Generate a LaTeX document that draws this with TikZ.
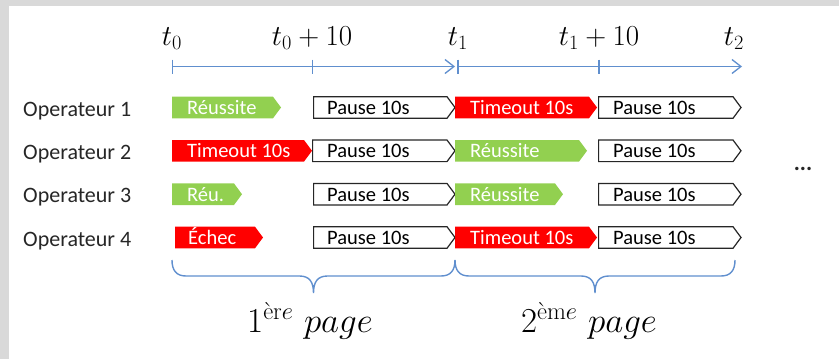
\RequirePackage{fix-cm}
\documentclass[tikz,border=0pt]{standalone}
\usepackage{amsmath}
\usepackage[no-math]{fontspec}
\newfontfamily\calib{Carlito}
\usetikzlibrary{arrows.meta}
\definecolor{axblue}{RGB}{96,143,206}
\definecolor{okgreen}{HTML}{92D050}
\definecolor{kored}{HTML}{FF0000}
\definecolor{framegray}{HTML}{D9D9D9}
\tikzset{
  boxtxt/.style={anchor=base west, inner sep=0pt, font=\calib\fontsize{20.5}{24}\selectfont},
  oklbl/.style={boxtxt, text=white},
  oplbl/.style={anchor=base west, inner sep=0pt, font=\calib\fontsize{22}{26}\selectfont, text=black!85},
  tlbl/.style={anchor=base, inner sep=0pt, font=\fontsize{29}{34}\selectfont},
  pagelbl/.style={anchor=base, inner sep=0pt, font=\fontsize{35}{42}\selectfont},
  axisline/.style={draw=axblue, line width=1.3pt},
  tipped/.style={axisline, -{Straight Barb[length=9pt,width=14pt,line width=1.3pt]}},
  okfill/.style={fill=okgreen},
  kofill/.style={fill=kored},
  pausebox/.style={draw=black!85, line width=1.2pt, fill=white, line join=miter},
  bracepath/.style={axisline, line width=1.4pt},
}
\newcommand\stepshape[4]{% style, x1, x2, y
  \path[#1] ({#2},{#4-10.8}) -- ({#3-8},{#4-10.8}) -- ({#3},{#4}) -- ({#3-8},{#4+10.8}) -- ({#2},{#4+10.8}) -- cycle;}
% brace from coordinate #1 to #2 (same y), pointing down
\newcommand\pagebrace[2]{%
  \draw[bracepath] (#1) .. controls ([yshift=-10pt]#1) and ([xshift=4pt,yshift=-16pt]#1) .. ([xshift=14pt,yshift=-16pt]#1)
    -- ([xshift=-14pt,yshift=-16pt]$(#1)!0.5!(#2)$)
    .. controls ([xshift=-4pt,yshift=-16pt]$(#1)!0.5!(#2)$) and ([yshift=-22pt]$(#1)!0.5!(#2)$) .. ([yshift=-33pt]$(#1)!0.5!(#2)$)
    .. controls ([yshift=-22pt]$(#1)!0.5!(#2)$) and ([xshift=4pt,yshift=-16pt]$(#1)!0.5!(#2)$) .. ([xshift=14pt,yshift=-16pt]$(#1)!0.5!(#2)$)
    -- ([xshift=-14pt,yshift=-16pt]#2)
    .. controls ([xshift=-4pt,yshift=-16pt]#2) and ([yshift=-10pt]#2) .. (#2);}
\usetikzlibrary{calc}
\begin{document}
\begin{tikzpicture}[x=1pt,y=-1pt]
\useasboundingbox (0,0) rectangle (839,359);
\fill[framegray] (0,0) rectangle (839,6);
\fill[framegray] (0,0) rectangle (9,359);

% time axis
\coordinate (a0) at (172.7,66.5);
\coordinate (a1) at (312.7,66.5);
\coordinate (a2) at (455,66.5);
\coordinate (b0) at (458,66.5);
\coordinate (b1) at (599,66.5);
\coordinate (b2) at (742,66.5);
\draw[tipped] (a0) -- (a2);
\draw[tipped] (b0) -- (b2);
\foreach \c in {a0,a1,b0,b1}{
  \draw[axisline] ([yshift=7pt]\c) -- ([yshift=-7pt]\c);
}
\node[tlbl] (t0) at (172,45) {$t_0$};
\node[tlbl] (t0p) at (312,45) {$t_0+10$};
\node[tlbl] (t1) at (458,45) {$t_1$};
\node[tlbl] (t1p) at (599,45) {$t_1+10$};
\node[tlbl] (t2) at (734,45) {$t_2$};

% operators
\node[oplbl] (op1) at (23,116) {Operateur 1};
\node[oplbl] (op2) at (23,159.3) {Operateur 2};
\node[oplbl] (op3) at (23,202.7) {Operateur 3};
\node[oplbl] (op4) at (23,246) {Operateur 4};

% row 1
\stepshape{okfill}{172}{281}{107.5}
\node[oklbl] (r1a) at (187,114.5) {Réussite};
\stepshape{pausebox}{313.6}{455}{107.5}
\node[boxtxt] (r1b) at (327,114.5) {Pause 10s};
\stepshape{kofill}{455}{597}{107.5}
\node[oklbl] (r1c) at (470,114.5) {Timeout 10s};
\stepshape{pausebox}{598.6}{741}{107.5}
\node[boxtxt] (r1d) at (613,114.5) {Pause 10s};

% row 2
\stepshape{kofill}{172}{312}{150.8}
\node[oklbl] (r2a) at (187,157.8) {Timeout 10s};
\stepshape{pausebox}{312.6}{455}{150.8}
\node[boxtxt] (r2b) at (327,157.8) {Pause 10s};
\stepshape{okfill}{455}{587}{150.8}
\node[oklbl] (r2c) at (470,157.8) {Réussite};
\stepshape{pausebox}{598.6}{741}{150.8}
\node[boxtxt] (r2d) at (613,157.8) {Pause 10s};

% row 3
\stepshape{okfill}{172}{242}{194.2}
\node[oklbl] (r3a) at (187,201.2) {Réu.};
\stepshape{pausebox}{313.6}{455}{194.2}
\node[boxtxt] (r3b) at (327,201.2) {Pause 10s};
\stepshape{okfill}{455}{563}{194.2}
\node[oklbl] (r3c) at (470,201.2) {Réussite};
\stepshape{pausebox}{598.6}{741}{194.2}
\node[boxtxt] (r3d) at (613,201.2) {Pause 10s};

% row 4
\stepshape{kofill}{175}{263}{237.5}
\node[oklbl] (r4a) at (188,244.5) {Échec};
\stepshape{pausebox}{313.6}{455}{237.5}
\node[boxtxt] (r4b) at (327,244.5) {Pause 10s};
\stepshape{kofill}{455}{597}{237.5}
\node[oklbl] (r4c) at (470,244.5) {Timeout 10s};
\stepshape{pausebox}{598.6}{741}{237.5}
\node[boxtxt] (r4d) at (613,244.5) {Pause 10s};

% dots
\node[anchor=base, inner sep=0pt, font=\calib\bfseries\fontsize{23}{26}\selectfont, text=black!85] (dots) at (803,170) {...};

% braces
\coordinate (p0) at (172,260);
\coordinate (p1) at (455,260);
\coordinate (p2) at (735,260);
\pagebrace{p0}{p1}
\pagebrace{p1}{p2}
\node[pagelbl] (pg1) at (310,332) {$1^{\text{èr}e}\ page$};
\node[pagelbl] (pg2) at (589,332) {$2^{\text{èm}e}\ page$};
\end{tikzpicture}
\end{document}
